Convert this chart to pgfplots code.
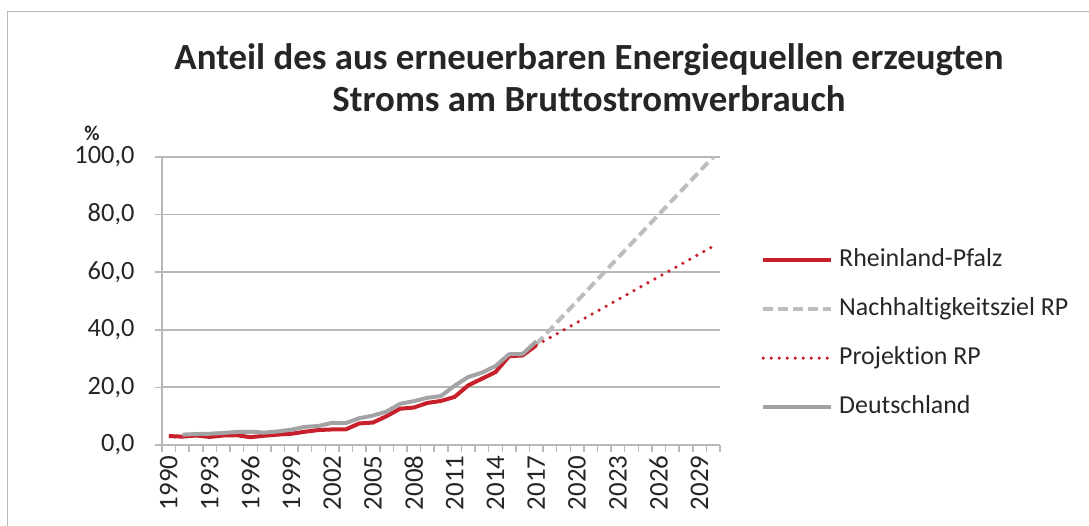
\documentclass[border=0pt]{standalone}
\usepackage{fontspec}
\setmainfont[Ligatures=NoCommon]{Carlito}
\usepackage{pgfplots}
\pgfplotsset{compat=1.18}
\definecolor{rpred}{HTML}{C8202B}
\definecolor{degray}{HTML}{A3A3A6}
\definecolor{zielgray}{HTML}{BDBDBF}
\definecolor{gridgray}{HTML}{B8B8B8}
\definecolor{txt}{HTML}{262626}
\begin{document}
\begin{tikzpicture}[x=1bp,y=1bp]
\path[use as bounding box] (0,0) rectangle (1089,526);
\draw[color=gridgray, line width=1.3bp] (7.5,0) -- (7.5,514.3) -- (1089,514.3);
\node[anchor=base, font=\fontsize{37}{44}\selectfont\bfseries, text=txt] at (589,456) {Anteil des aus erneuerbaren Energiequellen erzeugten};
\node[anchor=base, font=\fontsize{37}{44}\selectfont\bfseries, text=txt] at (589,414) {Stroms am Bruttostromverbrauch};
\node[font=\fontsize{21}{25}\selectfont\bfseries, text=txt] at (92,393) {\%};
\begin{axis}[
  at={(162bp,81bp)}, anchor=south west,
  scale only axis, width=558bp, height=288bp,
  xmin=1989.5, xmax=2030.5, ymin=0, ymax=100,
  axis x line*=bottom, axis y line*=left,
  axis line style={gridgray, line width=1.8bp},
  ymajorgrids, major grid style={gridgray, line width=1.8bp},
  tick align=outside,
  major tick length=7bp, minor tick length=7bp,
  every tick/.style={gridgray, line width=1.5bp},
  major x tick style={draw=none},
  xtick={1990,1993,...,2029},
  minor xtick={1989.5,1990.5,...,2030.5},
  ytick={0,20,...,100},
  /pgf/number format/assume math mode=true,
  xticklabel style={rotate=90, anchor=east, font=\fontsize{27}{30}\selectfont, text=txt, /pgf/number format/1000 sep={}},
  yticklabel style={font=\fontsize{26.5}{30}\selectfont, text=txt, xshift=-17bp, /pgf/number format/.cd, fixed, fixed zerofill, precision=1, use comma},
  legend style={draw=none, fill=none, at={(1.0735,0.695)}, anchor=north west, inner sep=0pt,
    font=\fontsize{26}{30}\selectfont, text=txt, row sep=20.3bp, column sep=4bp,
    nodes={inner sep=2bp, text height=19bp, text depth=6bp}},
  legend cell align=left,
  legend image code/.code={\draw[#1] (0bp,0bp) -- (68bp,0bp);},
  line join=round,
]
\addplot[rpred, line width=4bp] coordinates {
(1990,3.1) (1991,2.9) (1992,3.3) (1993,2.8) (1994,3.3) (1995,3.4) (1996,2.7) (1997,3.2)
(1998,3.6) (1999,3.9) (2000,4.6) (2001,5.2) (2002,5.4) (2003,5.4) (2004,7.5) (2005,7.8)
(2006,10.0) (2007,12.6) (2008,13.0) (2009,14.6) (2010,15.3) (2011,16.7) (2012,20.7)
(2013,23.0) (2014,25.3) (2015,30.8) (2016,31.1) (2017,34.6)};
\addlegendentry{Rheinland-Pfalz}
\addplot[zielgray, line width=4bp, dash pattern=on 10bp off 5bp] coordinates {
(2017,35) (2030,100)};
\addlegendentry{Nachhaltigkeitsziel RP}
\addplot[rpred, line width=3.6bp, line cap=round, dash pattern=on 0bp off 8bp] coordinates {
(2017,34.6) (2030,69)};
\addlegendentry{Projektion RP}
\addplot[degray, line width=4bp] coordinates {
(1991,3.6) (1992,3.8) (1993,3.9) (1994,4.2) (1995,4.5) (1996,4.6) (1997,4.3) (1998,4.7)
(1999,5.3) (2000,6.3) (2001,6.6) (2002,7.7) (2003,7.6) (2004,9.3) (2005,10.2) (2006,11.6)
(2007,14.3) (2008,15.2) (2009,16.4) (2010,17.0) (2011,20.6) (2012,23.6) (2013,25.1)
(2014,27.4) (2015,31.5) (2016,31.6) (2017,36.0)};
\addlegendentry{Deutschland}
\end{axis}
\end{tikzpicture}
\end{document}
